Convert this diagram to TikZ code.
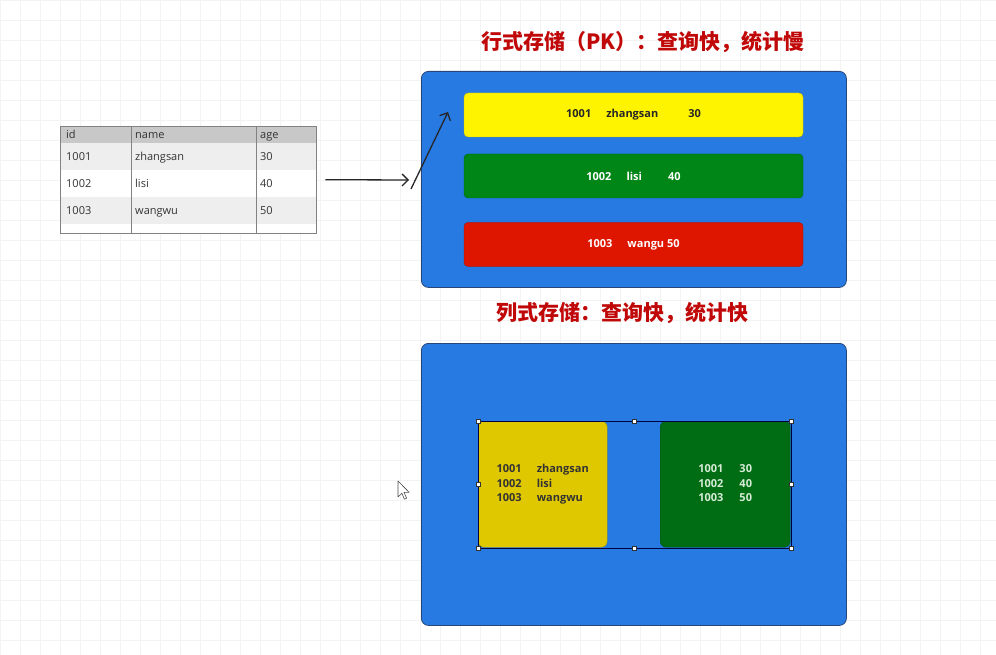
\documentclass[tikz,border=0pt]{standalone}
\usepackage{fontspec}
\setmainfont{Open Sans}
\newfontfamily\cjk{Noto Sans CJK SC}
\usetikzlibrary{arrows.meta,positioning,calc}
\definecolor{sky}{RGB}{38,122,226}
\definecolor{skyline}{RGB}{40,70,120}
\definecolor{lemon}{RGB}{255,244,0}
\definecolor{mustard}{RGB}{224,200,0}
\definecolor{grass}{RGB}{0,134,22}
\definecolor{forest}{RGB}{0,108,20}
\definecolor{tomato}{RGB}{222,22,0}
\definecolor{wine}{RGB}{192,8,8}
\definecolor{gridc}{RGB}{243,243,243}
\definecolor{hdr}{RGB}{200,200,200}
\definecolor{rowgray}{RGB}{238,238,238}
\definecolor{tblline}{RGB}{130,130,130}

\tikzset{
  panel/.style={draw=skyline,fill=sky,rounded corners=7pt,line width=0.8pt,anchor=north west,inner sep=0pt},
  rowbox/.style={draw=#1!75!black,fill=#1,rounded corners=4pt,minimum width=339pt,minimum height=44pt,
    font=\bfseries\fontsize{11}{13}\selectfont},
  colbox/.style={draw=#1!75!black,fill=#1,rounded corners=6pt,minimum width=129pt,minimum height=126pt,
    anchor=north west,inner sep=0pt,font=\bfseries\fontsize{11}{14.5}\selectfont},
  title/.style={text=wine,font=\cjk\bfseries\fontsize{21}{25}\selectfont},
  cell/.style={anchor=base west,inner sep=0pt,font=\fontsize{11}{13}\selectfont,text=black!80},
  handle/.style={draw=black!80,fill=white,minimum size=4pt,inner sep=0pt,line width=0.5pt},
  link/.style={line width=1.3pt,black!85,-{Straight Barb[length=6pt,width=12pt]}}
}

\begin{document}
\begin{tikzpicture}[x=1pt,y=-1pt]
  \useasboundingbox (0,0) rectangle (996,655);
  \fill[white] (0,0) rectangle (996,655);
  \foreach \g in {0,20,...,1000}{
    \draw[gridc,line width=0.5pt] (\g,0) -- (\g,655);
    \draw[gridc,line width=0.5pt] (0,\g) -- (996,\g);
  }

  % table
  \fill[white] (60,126) rectangle (316,233);
  \foreach \y/\h/\c/\a/\b/\d [count=\i] in {126/17/hdr/id/name/age,143/27/rowgray/1001/zhangsan/30,
      170/27/white/1002/lisi/40,197/27/rowgray/1003/wangwu/50}{
    \fill[\c] (60,\y) rectangle (316,\y+\h);
    \node[cell] (t\i a) at (66,\y+\h/2+4) {\a};
    \node[cell] (t\i b) at (135,\y+\h/2+4) {\b};
    \node[cell] (t\i c) at (260,\y+\h/2+4) {\d};
  }
  \node[draw=tblline,minimum width=256pt,minimum height=107pt,inner sep=0pt,anchor=north west] (tbl) at (60,126) {};
  \draw[tblline] (131,126) -- (131,233) (256,126) -- (256,233);

  % row store
  \node[title] (rowtitle) at (643,42) {行式存储（PK）：查询快，统计慢};
  \node[panel,minimum width=425pt,minimum height=216pt] (rowpanel) at (421,71) {};
  \node[rowbox=lemon,text=black!85] (r1) at (633.5,115) {1001\hspace{15pt}zhangsan\hspace{30pt}30};
  \node[rowbox=grass,text=white] (r2) at (633.5,176) {1002\hspace{15pt}lisi\hspace{26pt}40};
  \node[rowbox=tomato,text=white] (r3) at (633.5,244.5) {1003\hspace{15pt}wangu 50};

  \coordinate (a1) at ([xshift=9pt]tbl.east);
  \coordinate (a2) at (409,180);
  \coordinate (a3) at (411,189);
  \coordinate (a4) at (448,112);
  \draw[link] (a1) -- (a2);
  \draw[link] (a3) -- (a4);

  % column store
  \node[title] (coltitle) at (622,313) {列式存储：查询快，统计快};
  \node[panel,minimum width=425pt,minimum height=282pt] (colpanel) at (421,343) {};
  \node[colbox=mustard,text=black!80] (c1) at (478,421)
    {\begin{tabular}{@{}l@{\hspace{15pt}}l@{}}1001&zhangsan\\1002&lisi\\1003&wangwu\end{tabular}};
  \node[colbox=forest,text=green!10!white!85!gray,minimum width=130pt] (c2) at (660,421)
    {\begin{tabular}{@{}l@{\hspace{16pt}}l@{}}1001&30\\1002&40\\1003&50\end{tabular}};
  \draw[black!75!blue,line width=0.6pt] (478,421) rectangle (791,548);
  \foreach \p [count=\i] in {(478,421),(634,421),(791,421),(478,484.5),(791,484.5),(478,548),(634,548),(791,548)}
    \node[handle] (h\i) at \p {};

  \filldraw[fill=white,draw=black!70,line width=0.6pt,line join=round]
    (398,481) -- (398,497) -- (401.8,493.2) -- (404.4,499.2) -- (406.6,498.2) -- (404,492.4) -- (409.2,492.4) -- cycle;
\end{tikzpicture}
\end{document}
